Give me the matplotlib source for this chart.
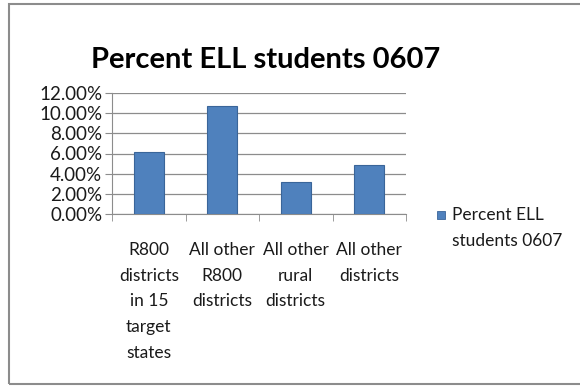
import matplotlib.pyplot as plt
from matplotlib.patches import Rectangle
from matplotlib.ticker import FuncFormatter, FixedLocator

categories = ["R800\ndistricts\nin 15\ntarget\nstates",
              "All other\nR800\ndistricts",
              "All other\nrural\ndistricts",
              "All other\ndistricts"]
ell_share = [0.0612, 0.1075, 0.0322, 0.0487]
series_name = "Percent ELL\nstudents 0607"
title = "Percent ELL students 0607"

plt.rcParams['font.family'] = ['Lato', 'DejaVu Sans']

fig = plt.figure(figsize=(5.8, 3.87), dpi=100)
fig.patch.set_facecolor('white')

# frame around the chart area
fig.patches.append(Rectangle((9 / 580, 3 / 387), 1.2, 380 / 387, transform=fig.transFigure,
                             fill=False, edgecolor='#8c8c8c', linewidth=1.5))

ax = fig.add_axes([112 / 580, 1 - 214 / 387, 294 / 580, 121 / 387])
x = list(range(len(categories)))
ax.bar(x, ell_share, width=0.41, color='#4f81bd', edgecolor='#3a6599', linewidth=0.8, zorder=3)

ax.set_xlim(-0.5, len(categories) - 0.5)
ax.set_ylim(0, 0.12)
ax.set_yticks([i * 0.02 for i in range(7)])
ax.yaxis.set_major_formatter(FuncFormatter(lambda v, p: f"{v * 100:.2f}%"))
ax.grid(axis='y', color='#8c8c8c', linewidth=0.9, zorder=0)

ax.set_xticks(x)
ax.set_xticklabels(categories, fontsize=12.5, linespacing=1.75, va='top')
ax.xaxis.set_minor_locator(FixedLocator([i - 0.5 for i in range(len(categories) + 1)]))
ax.tick_params(axis='x', which='major', length=0, pad=20, colors='#1a1a1a')
ax.tick_params(axis='x', which='minor', length=5, direction='out', color='#8c8c8c')
ax.tick_params(axis='y', length=5, direction='out', color='#8c8c8c', labelsize=13.5, pad=2, labelcolor='#1a1a1a')

for side in ['top', 'right']:
    ax.spines[side].set_visible(False)
ax.spines['left'].set_color('#8c8c8c')
ax.spines['bottom'].set_color('#8c8c8c')

fig.text(266 / 580, 1 - 60 / 387, title, ha='center', va='center',
         fontsize=21, fontweight='bold', color='black')

# legend
fig.patches.append(Rectangle((437 / 580, 1 - 219 / 387), 8 / 580, 8 / 387, transform=fig.transFigure,
                             facecolor='#4f81bd', edgecolor='#3a6599', linewidth=0.6))
fig.text(452 / 580, 1 - 207 / 387, series_name, ha='left', va='top',
         fontsize=12.5, linespacing=1.75, color='#1a1a1a')

fig.savefig('out.png', dpi=100)
